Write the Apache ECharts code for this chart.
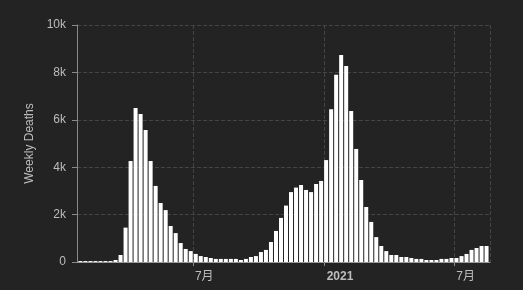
<!DOCTYPE html>
<html>
<head>
<meta charset="utf-8">
<script src="https://cdn.jsdelivr.net/npm/echarts@6/dist/echarts.min.js"></script>
<style>
html,body{margin:0;padding:0;background:#232323;}
#c{width:523px;height:290px;}
</style>
</head>
<body>
<div id="c"></div>
<script>
// Week dates (weekly, starting 2020-01-26)
const startDate = '2020-01-26';
const weeklyDeaths = [
  40, 40, 40, 40, 40, 40, 40,
  84, 295, 1450, 4260, 6500, 6250, 5570, 4260, 3210, 2490, 2190, 1520, 1220,
  800, 550, 460, 340, 250, 210, 170, 130, 130, 130, 130, 130, 85, 130, 210, 250,
  420, 510, 845, 1310, 1860, 2380, 2950, 3140, 3250, 3040, 2950, 3290, 3420, 4300,
  6450, 7900, 8730, 8270, 6370, 4770, 3460, 2320, 1690, 1050, 675, 460, 295, 295,
  210, 210, 170, 130, 130, 85, 85, 85, 130, 130, 170, 170, 250, 340, 510, 590,
  675, 675
];
const yTickLabels = ['0', '2k', '4k', '6k', '8k', '10k'];
const yAxisName = 'Weekly Deaths';

const DAY = 86400000;
const t0 = Date.UTC(2020, 0, 26);
const seriesData = weeklyDeaths.map((v, i) => [t0 + i * 7 * DAY, v]);

const chart = echarts.init(document.getElementById('c'), null, {renderer: 'canvas', locale: 'ZH'});
const font = "'Liberation Sans', 'Noto Sans CJK SC', sans-serif";
chart.setOption({
  backgroundColor: '#232323',
  animation: false,
  textStyle: {fontFamily: font},
  grid: {left: 77, right: 33, top: 25, bottom: 28},
  xAxis: {
    type: 'time',
    min: Date.UTC(2020, 0, 24),
    max: Date.UTC(2021, 7, 17),
    splitNumber: 3,
    axisLine: {lineStyle: {color: '#9a9a9a'}},
    axisTick: {show: true, length: 4, lineStyle: {color: '#8a8a8a'}},
    axisLabel: {color: '#bdbdbd', fontSize: 12, fontFamily: font, margin: 9,
      align: 'left', padding: [0, 0, 0, 2]},
    splitLine: {show: true, lineStyle: {color: '#444', type: 'dashed'}}
  },
  yAxis: {
    type: 'value',
    min: 0, max: 10000, interval: 2000,
    name: yAxisName,
    nameLocation: 'middle',
    nameGap: 39,
    nameTextStyle: {color: '#bdbdbd', fontSize: 12, fontFamily: font},
    axisLine: {show: true, lineStyle: {color: '#8a8a8a'}},
    axisTick: {show: true, length: 5, lineStyle: {color: '#8a8a8a'}},
    axisLabel: {color: '#bdbdbd', fontSize: 12, fontFamily: font, margin: 11,
      formatter: (v) => yTickLabels[Math.round(v / 2000)]},
    splitLine: {show: true, lineStyle: {color: '#444', type: 'dashed'}}
  },
  series: [{
    type: 'bar',
    data: seriesData,
    barWidth: 4,
    itemStyle: {color: '#ffffff'}
  }]
});
</script>
</body>
</html>
